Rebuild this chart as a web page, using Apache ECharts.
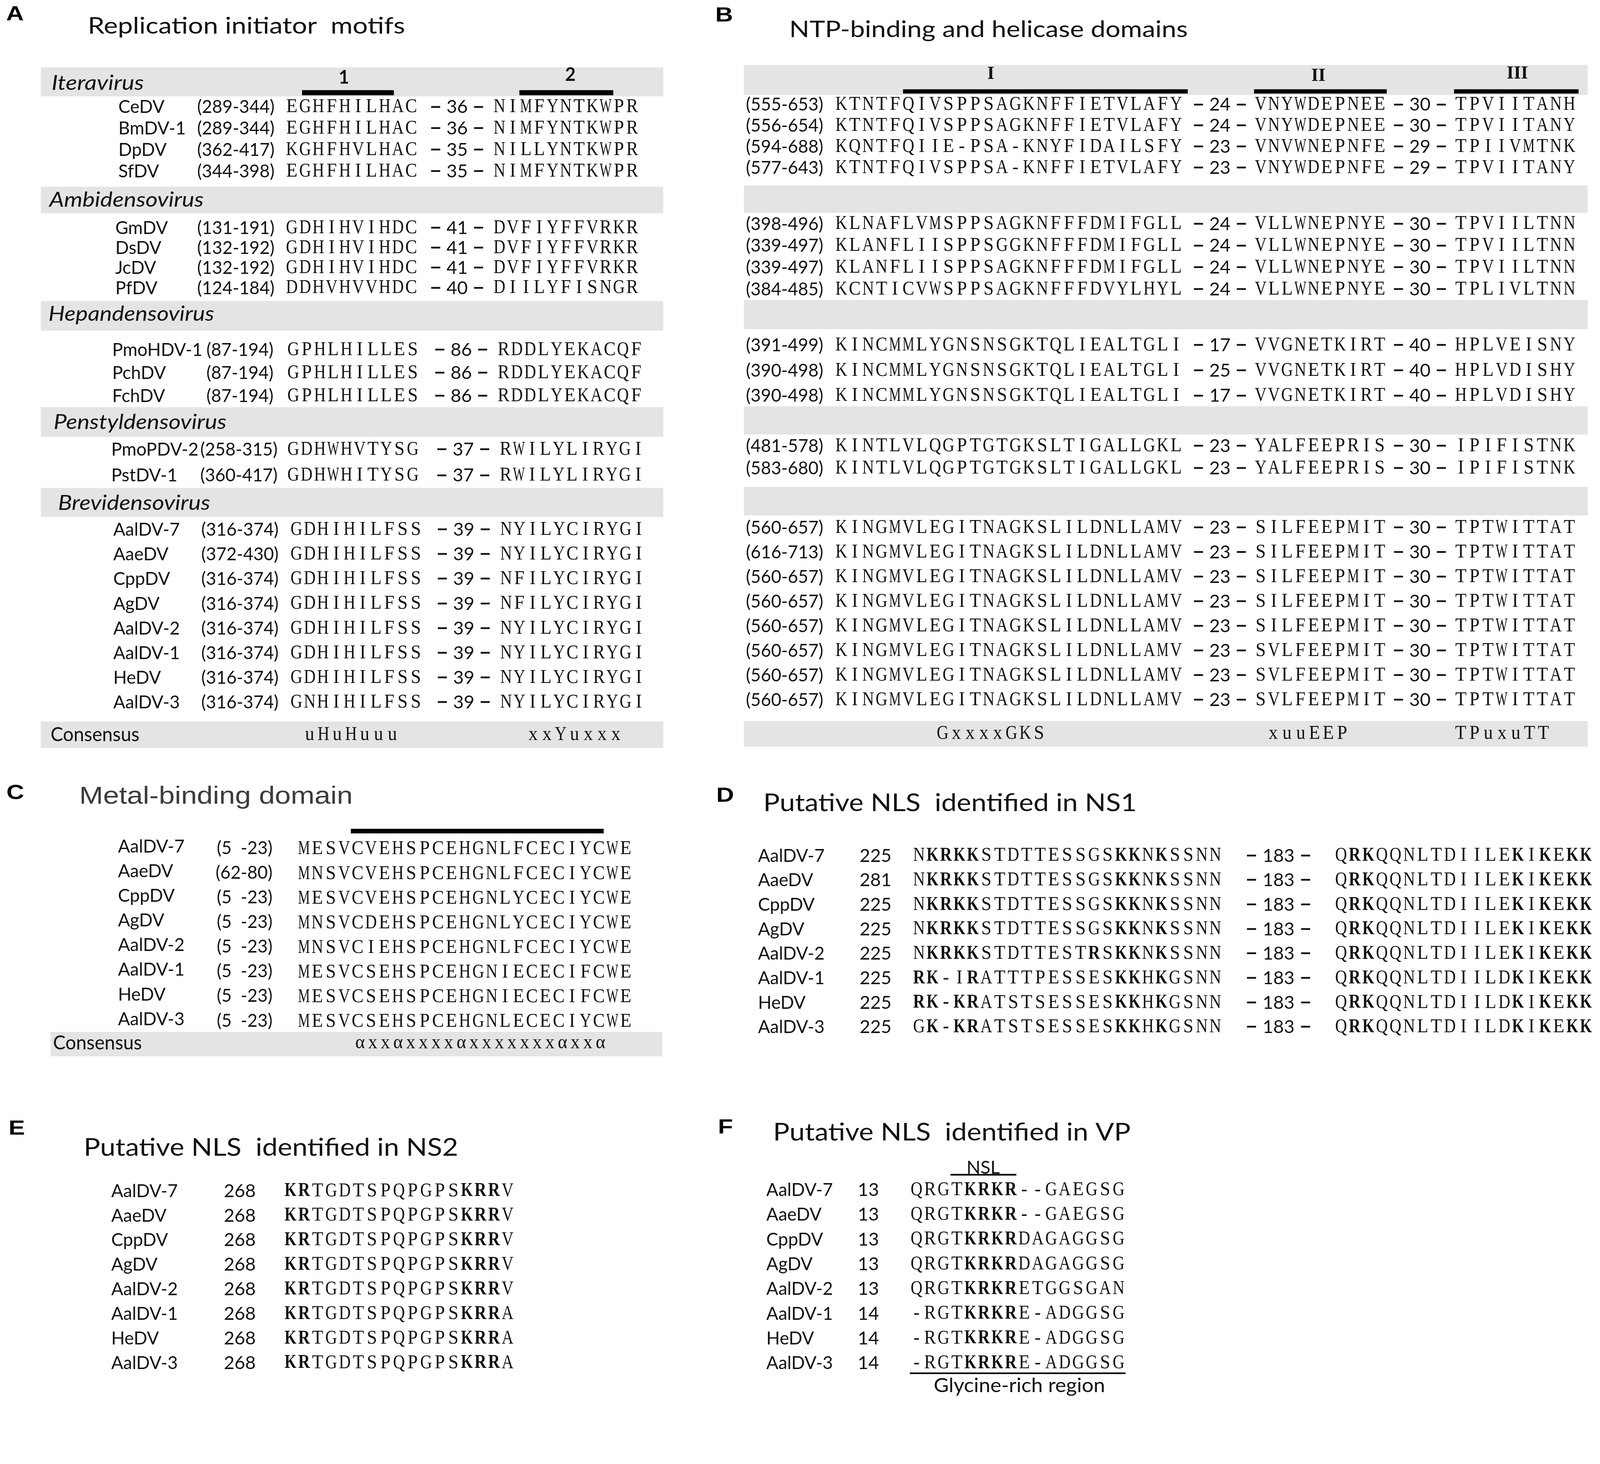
<!DOCTYPE html>
<html>
<head>
<meta charset="utf-8">
<title>Densovirus motifs</title>
<script src="https://cdn.jsdelivr.net/npm/echarts@6/dist/echarts.min.js"></script>
<style>
  html, body { margin: 0; padding: 0; background: #fff; overflow: hidden; }
  #main { width: 100vw; height: 100vh; }
</style>
</head>
<body>
<div id="main"></div>
<script>
// ---------- data ----------
var panelLetters = ['A', 'B', 'C', 'D', 'E', 'F'];
var panelTitles = ['Replication initiator  motifs', 'NTP-binding and helicase domains', 'Metal-binding domain',
    'Putative NLS  identified in NS1', 'Putative NLS  identified in NS2', 'Putative NLS  identified in VP'];

// A: replication initiator motifs
var aGroupNames = ['Iteravirus', 'Ambidensovirus', 'Hepandensovirus', 'Penstyldensovirus', 'Brevidensovirus'];
var aGroupOf = [0, 0, 0, 0, 1, 1, 1, 1, 2, 2, 2, 3, 3, 4, 4, 4, 4, 4, 4, 4, 4];
var aNames = ['CeDV', 'BmDV-1', 'DpDV', 'SfDV', 'GmDV', 'DsDV', 'JcDV', 'PfDV', 'PmoHDV-1', 'PchDV', 'FchDV',
    'PmoPDV-2', 'PstDV-1', 'AalDV-7', 'AaeDV', 'CppDV', 'AgDV', 'AalDV-2', 'AalDV-1', 'HeDV', 'AalDV-3'];
var aRanges = ['(289-344)', '(289-344)', '(362-417)', '(344-398)', '(131-191)', '(132-192)', '(132-192)', '(124-184)',
    '(87-194)', '(87-194)', '(87-194)', '(258-315)', '(360-417)', '(316-374)', '(372-430)', '(316-374)', '(316-374)',
    '(316-374)', '(316-374)', '(316-374)', '(316-374)'];
var aMotif1 = ['EGHFHILHAC', 'EGHFHILHAC', 'KGHFHVLHAC', 'EGHFHILHAC', 'GDHIHVIHDC', 'GDHIHVIHDC', 'GDHIHVIHDC',
    'DDHVHVVHDC', 'GPHLHILLES', 'GPHLHILLES', 'GPHLHILLES', 'GDHWHVTYSG', 'GDHWHITYSG', 'GDHIHILFSS', 'GDHIHILFSS',
    'GDHIHILFSS', 'GDHIHILFSS', 'GDHIHILFSS', 'GDHIHILFSS', 'GDHIHILFSS', 'GNHIHILFSS'];
var aGaps = [36, 36, 35, 35, 41, 41, 41, 40, 86, 86, 86, 37, 37, 39, 39, 39, 39, 39, 39, 39, 39];
var aMotif2 = ['NIMFYNTKWPR', 'NIMFYNTKWPR', 'NILLYNTKWPR', 'NIMFYNTKWPR', 'DVFIYFFVRKR', 'DVFIYFFVRKR', 'DVFIYFFVRKR',
    'DIILYFISNGR', 'RDDLYEKACQF', 'RDDLYEKACQF', 'RDDLYEKACQF', 'RWILYLIRYGI', 'RWILYLIRYGI', 'NYILYCIRYGI',
    'NYILYCIRYGI', 'NFILYCIRYGI', 'NFILYCIRYGI', 'NYILYCIRYGI', 'NYILYCIRYGI', 'NYILYCIRYGI', 'NYILYCIRYGI'];
var aMotifLabels = ['1', '2'];
var aConsensus = ['uHuHuuu', 'xxYuxxx'];

// B: NTP-binding and helicase domains
var bGroupOf = [0, 0, 0, 0, 1, 1, 1, 1, 2, 2, 2, 3, 3, 4, 4, 4, 4, 4, 4, 4, 4];
var bRanges = ['(555-653)', '(556-654)', '(594-688)', '(577-643)', '(398-496)', '(339-497)', '(339-497)', '(384-485)',
    '(391-499)', '(390-498)', '(390-498)', '(481-578)', '(583-680)', '(560-657)', '(616-713)', '(560-657)',
    '(560-657)', '(560-657)', '(560-657)', '(560-657)', '(560-657)'];
var bMotifI = ['KTNTFQIVSPPSAGKNFFIETVLAFY', 'KTNTFQIVSPPSAGKNFFIETVLAFY', 'KQNTFQIIE-PSA-KNYFIDAILSFY',
    'KTNTFQIVSPPSA-KNFFIETVLAFY', 'KLNAFLVMSPPSAGKNFFFDMIFGLL', 'KLANFLIISPPSGGKNFFFDMIFGLL',
    'KLANFLIISPPSAGKNFFFDMIFGLL', 'KCNTICVWSPPSAGKNFFFDVYLHYL', 'KINCMMLYGNSNSGKTQLIEALTGLI',
    'KINCMMLYGNSNSGKTQLIEALTGLI', 'KINCMMLYGNSNSGKTQLIEALTGLI', 'KINTLVLQGPTGTGKSLTIGALLGKL',
    'KINTLVLQGPTGTGKSLTIGALLGKL', 'KINGMVLEGITNAGKSLILDNLLAMV', 'KINGMVLEGITNAGKSLILDNLLAMV',
    'KINGMVLEGITNAGKSLILDNLLAMV', 'KINGMVLEGITNAGKSLILDNLLAMV', 'KINGMVLEGITNAGKSLILDNLLAMV',
    'KINGMVLEGITNAGKSLILDNLLAMV', 'KINGMVLEGITNAGKSLILDNLLAMV', 'KINGMVLEGITNAGKSLILDNLLAMV'];
var bGap1 = [24, 24, 23, 23, 24, 24, 24, 24, 17, 25, 17, 23, 23, 23, 23, 23, 23, 23, 23, 23, 23];
var bMotifII = ['VNYWDEPNEE', 'VNYWDEPNEE', 'VNVWNEPNFE', 'VNYWDEPNFE', 'VLLWNEPNYE', 'VLLWNEPNYE', 'VLLWNEPNYE',
    'VLLWNEPNYE', 'VVGNETKIRT', 'VVGNETKIRT', 'VVGNETKIRT', 'YALFEEPRIS', 'YALFEEPRIS', 'SILFEEPMIT',
    'SILFEEPMIT', 'SILFEEPMIT', 'SILFEEPMIT', 'SILFEEPMIT', 'SVLFEEPMIT', 'SVLFEEPMIT', 'SVLFEEPMIT'];
var bGap2 = [30, 30, 29, 29, 30, 30, 30, 30, 40, 40, 40, 30, 30, 30, 30, 30, 30, 30, 30, 30, 30];
var bMotifIII = ['TPVIITANH', 'TPVIITANY', 'TPIIVMTNK', 'TPVIITANY', 'TPVIILTNN', 'TPVIILTNN', 'TPVIILTNN',
    'TPLIVLTNN', 'HPLVEISNY', 'HPLVDISHY', 'HPLVDISHY', 'IPIFISTNK', 'IPIFISTNK', 'TPTWITTAT', 'TPTWITTAT',
    'TPTWITTAT', 'TPTWITTAT', 'TPTWITTAT', 'TPTWITTAT', 'TPTWITTAT', 'TPTWITTAT'];
var bMotifLabels = ['I', 'II', 'III'];
var bConsensus = ['GxxxxGKS', 'xuuEEP', 'TPuxuTT'];

// C-F: brevidensoviruses
var brevNames = ['AalDV-7', 'AaeDV', 'CppDV', 'AgDV', 'AalDV-2', 'AalDV-1', 'HeDV', 'AalDV-3'];
var cRanges = ['(5  -23)', '(62-80)', '(5  -23)', '(5  -23)', '(5  -23)', '(5  -23)', '(5  -23)', '(5  -23)'];
var cSeqs = ['MESVCVEHSPCEHGNLFCECIYCWE', 'MNSVCVEHSPCEHGNLFCECIYCWE', 'MESVCVEHSPCEHGNLYCECIYCWE',
    'MNSVCDEHSPCEHGNLYCECIYCWE', 'MNSVCIEHSPCEHGNLFCECIYCWE', 'MESVCSEHSPCEHGNIECECIFCWE',
    'MESVCSEHSPCEHGNIECECIFCWE', 'MESVCSEHSPCEHGNLECECIYCWE'];
var cConsensus = 'αxxαxxxxαxxxxxxxαxxα';

var dStarts = [225, 281, 225, 225, 225, 225, 225, 225];
var dSeq1 = ['NKRKKSTDTTESSGSKKNKSSNN', 'NKRKKSTDTTESSGSKKNKSSNN', 'NKRKKSTDTTESSGSKKNKSSNN',
    'NKRKKSTDTTESSGSKKNKSSNN', 'NKRKKSTDTTESTRSKKNKSSNN', 'RK-IRATTTPESSESKKHKGSNN',
    'RK-KRATSTSESSESKKHKGSNN', 'GK-KRATSTSESSESKKHKGSNN'];
var dBold1 = ['.****..........**.*....', '.****..........**.*....', '.****..........**.*....',
    '.****..........**.*....', '.****........*.**.*....', '**..*..........**.*....',
    '*****..........**.*....', '.****..........**.*....'];
var dGaps = [183, 183, 183, 183, 183, 183, 183, 183];
var dSeq2 = ['QRKQQNLTDIILEKIKEKK', 'QRKQQNLTDIILEKIKEKK', 'QRKQQNLTDIILEKIKEKK', 'QRKQQNLTDIILEKIKEKK',
    'QRKQQNLTDIILEKIKEKK', 'QRKQQNLTDIILDKIKEKK', 'QRKQQNLTDIILDKIKEKK', 'QRKQQNLTDIILDKIKEKK'];
var dBold2 = '.**..........*.*.**';

var eStarts = [268, 268, 268, 268, 268, 268, 268, 268];
var eSeqs = ['KRTGDTSPQPGPSKRRV', 'KRTGDTSPQPGPSKRRV', 'KRTGDTSPQPGPSKRRV', 'KRTGDTSPQPGPSKRRV',
    'KRTGDTSPQPGPSKRRV', 'KRTGDTSPQPGPSKRRA', 'KRTGDTSPQPGPSKRRA', 'KRTGDTSPQPGPSKRRA'];
var eBold = '**...........***.';

var fStarts = [13, 13, 13, 13, 13, 14, 14, 14];
var fSeqs = ['QRGTKRKR--GAEGSG', 'QRGTKRKR--GAEGSG', 'QRGTKRKRDAGAGGSG', 'QRGTKRKRDAGAGGSG',
    'QRGTKRKRETGGSGAN', '-RGTKRKRE-ADGGSG', '-RGTKRKRE-ADGGSG', '-RGTKRKRE-ADGGSG'];
var fBold = '....****........';
var fRegionLabels = ['NSL', 'Glycine-rich region'];

// ---------- layout (reference units: figure is 1568 wide) ----------
var mainEl = document.getElementById('main');
var K = mainEl.clientWidth / 1568;
var H = mainEl.clientHeight / K;
var SANS = "Lato, 'Open Sans', sans-serif";
var SERIF = "'Liberation Serif', 'DejaVu Serif', serif";
var ARIAL = "'Liberation Sans', Arial, sans-serif";
var GREY = '#e4e4e4';
var INK = '#111';
var SEQ_SIZE = 19, SEQ_MAXW = 11.6, SEQ_SX = 0.95;
var NAME_SX = 0.97, RANGE_SX = 0.96;

var letterPos = [[6, 14.5], [701, 15.4], [6.3, 777.5], [702, 780], [8.4, 1106], [703.6, 1105]];
var titlePos = [[86, 25.7, 311, 22], [773.5, 29.2, 390.5, 22], [77.7, 781, 268, 24],
    [748, 787, 366, 24], [82, 1124.5, 367, 24], [757.6, 1109.5, 350.4, 24]];

var aLayout = {
    barX: [40, 650], cons: [707, 733], consY: 720, consX: [344, 563],
    seq1: 279.5, seq2: 483, dash: 448, pitch: 13.0,
    motifBars: [[296, 386], [509, 601]], motifBarY: [88.3, 93.3], labelX: [337, 559], labelY: [76, 73.5],
    groups: [
        { bar: [66, 94.5], lx: 50.5, lw: 90.5, ly: 81.7, first: 105, pitch: 21, nameX: 116, rangeR: 269, dx1: 0, dx2: 0 },
        { bar: [183, 209], lx: 48.3, lw: 151.3, ly: 196, first: 223.5, pitch: 19.6, nameX: 113, rangeR: 269, dx1: 0, dx2: 0 },
        { bar: [295, 324], lx: 47.5, lw: 162.5, ly: 307.7, first: 343, pitch: 22.5, nameX: 110, rangeR: 268, dx1: 1.5, dx2: 4 },
        { bar: [399, 428], lx: 52.5, lw: 169.5, ly: 413.8, first: 440.7, pitch: 25.3, nameX: 109, rangeR: 272, dx1: 1.5, dx2: 6 },
        { bar: [478, 506.6], lx: 56.8, lw: 149.2, ly: 493, first: 519, pitch: 24.2, nameX: 111, rangeR: 273, dx1: 4.5, dx2: 6.5 }
    ]
};

var bLayout = {
    barX: [729, 1556], header: [63.7, 93], cons: [706.5, 731.7], consY: 719, consX: [971, 1281.5, 1472],
    seps: [[181.6, 208.5], [294, 322.5], [398, 425.7], [477, 505]],
    groups: [{ first: 102.7, pitch: 20.6 }, { first: 219.5, pitch: 21.4 }, { first: 338.5, pitch: 24.7 },
        { first: 437, pitch: 22 }, { first: 517, pitch: 24.15 }],
    rangeX: 731, seq1: 818, p1: 13.12, dash1: 1195.5, seq2: 1229, p2: 12.95, dash2: 1391.5, seq3: 1425, p3: 13.3,
    motifBars: [[885, 1164], [1229, 1359], [1425, 1547]], motifBarY: [87.5, 91.7],
    labelX: [971, 1292, 1487], labelY: [72.5, 74.7, 72.4]
};

var measureCtx = document.createElement('canvas').getContext('2d');
function textWidth(s, font) {
    measureCtx.font = font;
    return measureCtx.measureText(s).width;
}

// text element placed through the cartesian axes
function T(api, x, y, s, o) {
    o = o || {};
    var p = api.coord([x, y]);
    var font = (o.style || 'normal') + ' ' + (o.weight || 'normal') + ' ' + ((o.size || 18) * K).toFixed(1) + 'px ' + (o.family || SANS);
    var sx = o.sx || 1;
    if (o.width) sx = o.width * K / textWidth(s, font);
    if (o.maxW) sx = Math.min(sx, o.maxW * K / textWidth(s, font));
    return {
        type: 'text', x: p[0], y: p[1], scaleX: sx, silent: true,
        style: { text: s, font: font, fill: o.color || INK, align: o.align || 'left', verticalAlign: 'middle' }
    };
}

function R(api, x0, x1, y0, y1, color) {
    var p0 = api.coord([x0, y0]), p1 = api.coord([x1, y1]);
    return {
        type: 'rect', silent: true,
        shape: { x: p0[0], y: Math.min(p0[1], p1[1]), width: p1[0] - p0[0], height: Math.abs(p1[1] - p0[1]) },
        style: { fill: color }
    };
}

// one residue per column, monospaced like the original alignment
function residues(api, str, x0, pitch, y, mask) {
    var out = [];
    for (var j = 0; j < str.length; j++) {
        out.push(T(api, x0 + (j + 0.5) * pitch, y, str.charAt(j), {
            family: SERIF, size: SEQ_SIZE, sx: SEQ_SX, maxW: SEQ_MAXW, align: 'center',
            weight: mask && mask.charAt(j) === '*' ? 'bold' : 'normal'
        }));
    }
    return out;
}

function centred(api, str, cx, pitch, y) {
    return residues(api, str, cx - str.length * pitch / 2, pitch, y);
}

function gapMark(api, cx, y, n) {
    var off = String(n).length > 2 ? 26.5 : 21;
    return [
        T(api, cx - off, y - 1, '–', { weight: 'bold', size: 20, align: 'center', sx: 1.1 }),
        T(api, cx, y, String(n), { align: 'center' }),
        T(api, cx + off, y - 1, '–', { weight: 'bold', size: 20, align: 'center', sx: 1.1 })
    ];
}

function indexInGroup(groupOf, i) {
    var k = 0;
    for (var j = 0; j < i; j++) if (groupOf[j] === groupOf[i]) k++;
    return k;
}

// ---------- renderers ----------
function renderDecor(params, api) {
    var c = [];
    panelLetters.forEach(function (l, i) {
        c.push(T(api, letterPos[i][0], letterPos[i][1], l, { family: ARIAL, weight: 'bold', size: 20, sx: 1.2, color: '#000' }));
    });
    panelTitles.forEach(function (t, i) {
        var tp = titlePos[i];
        c.push(T(api, tp[0], tp[1], t, {
            family: i === 2 ? ARIAL : SANS, size: tp[3], width: tp[2], color: i === 2 ? '#3c3c3c' : INK
        }));
    });

    // panel A frame
    aLayout.groups.forEach(function (L, g) {
        c.push(R(api, aLayout.barX[0], aLayout.barX[1], L.bar[0], L.bar[1], GREY));
        c.push(T(api, L.lx, L.ly, aGroupNames[g], { style: 'italic', size: 20, width: L.lw }));
    });
    c.push(R(api, aLayout.barX[0], aLayout.barX[1], aLayout.cons[0], aLayout.cons[1], GREY));
    c.push(T(api, 49.6, aLayout.consY, 'Consensus', { size: 19, width: 87 }));
    aConsensus.forEach(function (s, i) {
        c = c.concat(centred(api, s, aLayout.consX[i], 13.5, aLayout.consY));
    });
    aMotifLabels.forEach(function (s, i) {
        var b = aLayout.motifBars[i];
        c.push(R(api, b[0], b[1], aLayout.motifBarY[0], aLayout.motifBarY[1], '#000'));
        c.push(T(api, aLayout.labelX[i], aLayout.labelY[i], s, { weight: 'bold', align: 'center' }));
    });

    // panel B frame
    c.push(R(api, bLayout.barX[0], bLayout.barX[1], bLayout.header[0], bLayout.header[1], GREY));
    bLayout.seps.forEach(function (s) {
        c.push(R(api, bLayout.barX[0], bLayout.barX[1], s[0], s[1], GREY));
    });
    c.push(R(api, bLayout.barX[0], bLayout.barX[1], bLayout.cons[0], bLayout.cons[1], GREY));
    bConsensus.forEach(function (s, i) {
        c = c.concat(centred(api, s, bLayout.consX[i], 13.5, bLayout.consY));
    });
    bMotifLabels.forEach(function (s, i) {
        var b = bLayout.motifBars[i];
        c.push(R(api, b[0], b[1], bLayout.motifBarY[0], bLayout.motifBarY[1], '#000'));
        c.push(T(api, bLayout.labelX[i], bLayout.labelY[i], s, { family: SERIF, weight: 'bold', align: 'center' }));
    });

    // panel C frame
    c.push(R(api, 343.8, 591.6, 812, 816.5, '#000'));
    c.push(R(api, 49.6, 649, 1011, 1035, GREY));
    c.push(T(api, 52, 1022, 'Consensus', { size: 19, width: 87 }));
    c = c.concat(centred(api, cConsensus, 470.7, 12.4, 1022));

    // panel F marks
    c.push(T(api, 963.5, 1144, fRegionLabels[0], { align: 'center' }));
    c.push(R(api, 931.5, 996, 1150.2, 1151.8, '#000'));
    c.push(R(api, 891.6, 1103, 1344.7, 1346.3, '#000'));
    c.push(T(api, 999, 1358, fRegionLabels[1], { align: 'center', size: 19, width: 168 }));
    return { type: 'group', children: c };
}

function renderA(params, api) {
    var i = params.dataIndex;
    var L = aLayout.groups[aGroupOf[i]];
    var y = L.first + indexInGroup(aGroupOf, i) * L.pitch;
    var c = [
        T(api, L.nameX, y, aNames[i], { sx: NAME_SX }),
        T(api, L.rangeR, y, aRanges[i], { align: 'right', sx: RANGE_SX })
    ];
    c = c.concat(residues(api, aMotif1[i], aLayout.seq1 + L.dx1, aLayout.pitch, y));
    c = c.concat(gapMark(api, aLayout.dash + L.dx2, y, aGaps[i]));
    c = c.concat(residues(api, aMotif2[i], aLayout.seq2 + L.dx2, aLayout.pitch, y));
    return { type: 'group', children: c };
}

function renderB(params, api) {
    var i = params.dataIndex;
    var G = bLayout.groups[bGroupOf[i]];
    var y = G.first + indexInGroup(bGroupOf, i) * G.pitch;
    var c = [T(api, bLayout.rangeX, y, bRanges[i], { sx: RANGE_SX })];
    c = c.concat(residues(api, bMotifI[i], bLayout.seq1, bLayout.p1, y));
    c = c.concat(gapMark(api, bLayout.dash1, y, bGap1[i]));
    c = c.concat(residues(api, bMotifII[i], bLayout.seq2, bLayout.p2, y));
    c = c.concat(gapMark(api, bLayout.dash2, y, bGap2[i]));
    c = c.concat(residues(api, bMotifIII[i], bLayout.seq3, bLayout.p3, y));
    return { type: 'group', children: c };
}

function renderC(params, api) {
    var i = params.dataIndex;
    var y = 832 + i * 24.15;
    var c = [
        T(api, 115.6, y - 2.5, brevNames[i], { sx: NAME_SX }),
        T(api, 267, y - 1, cRanges[i], { align: 'right', sx: RANGE_SX })
    ];
    c = c.concat(residues(api, cSeqs[i], 291.3, 13.14, y));
    return { type: 'group', children: c };
}

function renderD(params, api) {
    var i = params.dataIndex;
    var y = 838.5 + i * 24;
    var c = [
        T(api, 742.8, y, brevNames[i], { sx: NAME_SX }),
        T(api, 858, y, String(dStarts[i]), { align: 'center' })
    ];
    c = c.concat(residues(api, dSeq1[i], 894, 13.2, y, dBold1[i]));
    c = c.concat(gapMark(api, 1253, y, dGaps[i]));
    c = c.concat(residues(api, dSeq2[i], 1307.6, 13.33, y, dBold2));
    return { type: 'group', children: c };
}

function renderE(params, api) {
    var i = params.dataIndex;
    var y = 1167 + i * 24.07;
    var c = [
        T(api, 109, y, brevNames[i], { sx: NAME_SX }),
        T(api, 235, y, String(eStarts[i]), { align: 'center' })
    ];
    c = c.concat(residues(api, eSeqs[i], 278, 13.3, y, eBold));
    return { type: 'group', children: c };
}

function renderF(params, api) {
    var i = params.dataIndex;
    var y = 1166 + i * 24.23;
    var c = [
        T(api, 751, y, brevNames[i], { sx: NAME_SX }),
        T(api, 851, y, String(fStarts[i]), { align: 'center' })
    ];
    c = c.concat(residues(api, fSeqs[i], 891.6, 13.2, y, fBold));
    return { type: 'group', children: c };
}

function rowSeries(name, list, render) {
    return {
        type: 'custom', name: name, coordinateSystem: 'cartesian2d', clip: false, silent: true, z: 3,
        data: list.map(function (v, i) { return [i, i]; }),
        renderItem: render
    };
}

var chart = echarts.init(mainEl, null, { renderer: 'canvas' });
chart.setOption({
    animation: false,
    backgroundColor: '#fff',
    grid: { left: 0, right: 0, top: 0, bottom: 0 },
    xAxis: { type: 'value', min: 0, max: 1568, show: false },
    yAxis: { type: 'value', min: 0, max: H, inverse: true, show: false },
    series: [
        { type: 'custom', name: 'frame', coordinateSystem: 'cartesian2d', clip: false, silent: true, z: 1,
            data: [[0, 0]], renderItem: renderDecor },
        rowSeries('A', aNames, renderA),
        rowSeries('B', bRanges, renderB),
        rowSeries('C', brevNames, renderC),
        rowSeries('D', brevNames, renderD),
        rowSeries('E', brevNames, renderE),
        rowSeries('F', brevNames, renderF)
    ]
});
window.addEventListener('resize', function () { chart.resize(); });
</script>
</body>
</html>
